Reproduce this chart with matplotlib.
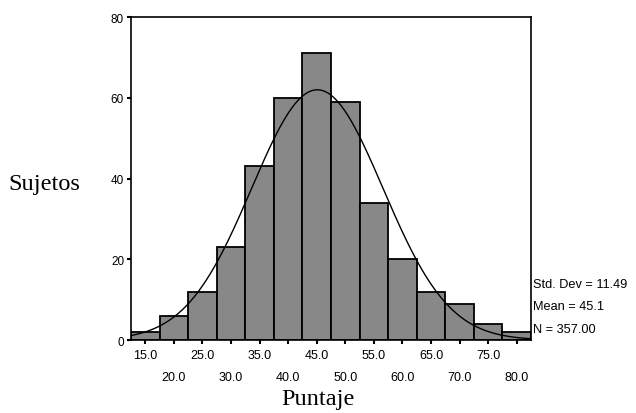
import numpy as np
import matplotlib
matplotlib.use("Agg")
import matplotlib.pyplot as plt

bin_centers = [15, 20, 25, 30, 35, 40, 45, 50, 55, 60, 65, 70, 75, 80]
counts = [2, 6, 12, 23, 43, 60, 71, 59, 34, 20, 12, 9, 4, 2]
tick_labels = ["15.0", "20.0", "25.0", "30.0", "35.0", "40.0", "45.0",
               "50.0", "55.0", "60.0", "65.0", "70.0", "75.0", "80.0"]
y_ticks = [0, 20, 40, 60, 80]
std_dev = 11.49
mean = 45.1
n_total = 357.00
bin_width = 5.0

fig = plt.figure(figsize=(6.36, 4.14), dpi=100)
ax = fig.add_axes([0.206, 0.1763, 0.629, 0.7802])

ax.bar(bin_centers, counts, width=bin_width, color="#888888",
       edgecolor="black", linewidth=1.3, zorder=2)

xs = np.linspace(12.5, 82.5, 400)
pdf = n_total * bin_width / (std_dev * np.sqrt(2 * np.pi)) * np.exp(-0.5 * ((xs - mean) / std_dev) ** 2)
ax.plot(xs, pdf, color="black", linewidth=1.0, zorder=3)

ax.set_xlim(12.5, 82.5)
ax.set_ylim(0, 80)
ax.set_yticks(y_ticks)
ax.set_yticklabels([str(v) for v in y_ticks], fontsize=8.5, family="Liberation Sans")
ax.set_xticks(bin_centers)
ax.set_xticklabels([])
for i, (c, lab) in enumerate(zip(bin_centers, tick_labels)):
    yoff = -0.047 if i % 2 == 0 else -0.114
    ax.text(c, yoff, lab, transform=ax.get_xaxis_transform(), ha="center", va="center",
            fontsize=9, family="Liberation Sans")

ax.tick_params(axis="both", direction="out", length=3, width=1.5, pad=2)
for s in ax.spines.values():
    s.set_linewidth(1.2)

fig.text(44 / 636, 1 - 185 / 414, "Sujetos", ha="center", va="center", fontsize=17.5, family="Liberation Serif")
fig.text(318 / 636, 1 - 400 / 414, "Puntaje", ha="center", va="center", fontsize=17.5, family="Liberation Serif")

sx = 533 / 636
fig.text(sx, 1 - 285 / 414, "Std. Dev = 11.49", ha="left", va="center", fontsize=9.2, family="Liberation Sans")
fig.text(sx, 1 - 307 / 414, "Mean = 45.1", ha="left", va="center", fontsize=9.2, family="Liberation Sans")
fig.text(sx, 1 - 330 / 414, "N = 357.00", ha="left", va="center", fontsize=9.2, family="Liberation Sans")

fig.savefig("out.png", dpi=100)
